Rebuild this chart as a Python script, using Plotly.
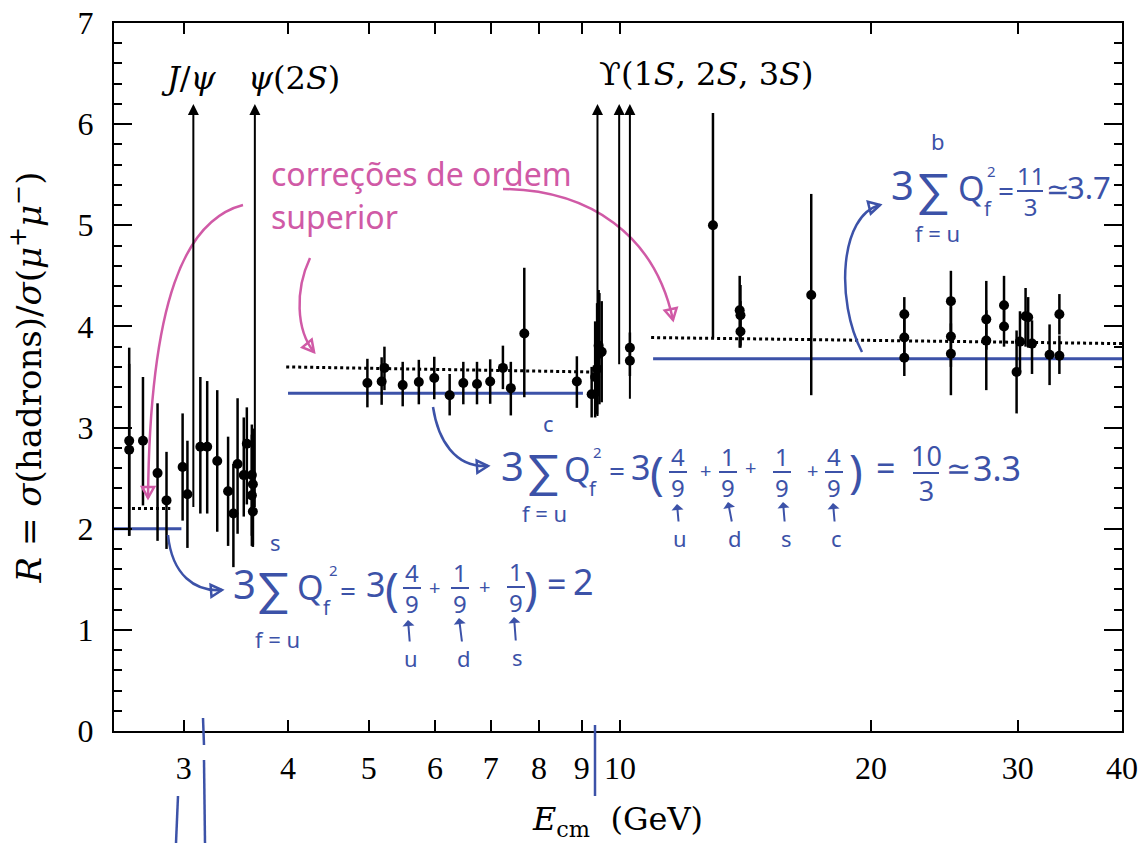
import math
import plotly.graph_objects as go

# ---------------- data ----------------
E = [2.58, 2.58, 2.68, 2.79, 2.86, 2.99, 3.03, 3.14, 3.20, 3.29, 3.39, 3.44, 3.48, 3.54, 3.57,
     3.62, 3.63, 3.62, 3.63,
     4.98, 5.18, 5.22, 5.49, 5.74, 5.99, 6.25, 6.49, 6.74, 6.99, 7.24, 7.40, 7.68, 8.88,
     9.25, 9.34, 9.39, 9.45, 9.43, 9.51, 10.28, 10.28,
     12.93, 13.92, 13.95, 13.95, 16.96, 21.93, 21.93, 21.93, 24.94, 24.94, 24.94,
     27.5, 27.5, 28.88, 28.88, 29.9, 30.18, 30.65, 30.87, 31.2, 32.75, 33.65, 33.65]
R = [2.87, 2.78, 2.87, 2.55, 2.28, 2.61, 2.34, 2.81, 2.81, 2.67, 2.37, 2.15, 2.64, 2.53, 2.84,
     2.53, 2.44, 2.33, 2.17,
     3.44, 3.455, 3.59, 3.42, 3.45, 3.49, 3.32, 3.44, 3.43, 3.455, 3.59, 3.39, 3.93, 3.455,
     3.33, 3.50, 3.58, 3.73, 3.81, 3.75, 3.79, 3.66,
     5.00, 4.16, 4.11, 3.95, 4.31, 4.12, 3.89, 3.69, 4.25, 3.90, 3.73,
     4.07, 3.86, 4.21, 4.00, 3.55, 3.85, 4.10, 4.09, 3.83, 3.72, 4.12, 3.71]
ERR_UP = [0.92, 0.85, 0.63, 0.69, 0.48, 0.53, 0.53, 0.69, 0.65, 0.70, 0.54, 0.49, 0.65, 0.57, 0.36,
          0.50, 0.55, 0.60, 0.55,
          0.24, 0.24, 0.21, 0.23, 0.22, 0.21, 0.21, 0.21, 0.22, 0.22, 0.22, 0.26, 0.65, 0.25,
          0.27, 0.55, 0.65, 0.60, 0.55, 0.50, 0.15, 0.15,
          1.11, 0.34, 0.30, 0.30, 1.00, 0.17, 0.20, 0.20, 0.30, 0.30, 0.30,
          0.38, 0.30, 0.29, 0.20, 0.41, 0.30, 0.28, 0.20, 0.23, 0.30, 0.20, 0.20]
ERR_DN = [0.94, 0.85, 0.64, 0.67, 0.48, 0.53, 0.53, 0.66, 0.66, 0.70, 0.54, 0.53, 0.69, 0.41, 0.60,
          0.60, 0.60, 0.50, 0.35,
          0.24, 0.23, 0.22, 0.21, 0.22, 0.21, 0.20, 0.21, 0.20, 0.22, 0.21, 0.27, 0.63, 0.26,
          0.23, 0.40, 0.45, 0.50, 0.50, 0.50, 0.15, 0.15,
          1.11, 0.37, 0.30, 0.16, 0.99, 0.25, 0.20, 0.18, 0.30, 0.30, 0.41,
          0.30, 0.49, 0.20, 0.20, 0.41, 0.30, 0.30, 0.30, 0.30, 0.30, 0.20, 0.18]

# higher-order (QCD) prediction, dotted
QCD_E = [[2.60, 2.89], [3.98, 9.2], [10.9, 40.0]]
QCD_R = [[2.20, 2.20], [3.60, 3.55], [3.89, 3.83]]
# naive parton-model levels (hand-drawn blue)
PARTON_E = [[2.474, 2.98], [4.0, 9.03], [10.96, 40.0]]
PARTON_R = [2.0, 3.34, 3.68]

# resonances drawn as arrows off scale
RES_E = [3.08, 3.65, 9.40, 9.98, 10.28]
RES_R0 = [2.20, 2.20, 3.10, 3.61, 3.27]
RES_TOP = 6.2

X_TICKS = [3, 4, 5, 6, 7, 8, 9, 10, 20, 30, 40]
X_RANGE = [2.474, 40.0]
Y_RANGE = [0, 7]

BLUE = "#3c52a8"
PINK = "#d05aa6"
SERIF = "Liberation Serif, DejaVu Serif, serif"
WIDE_SERIF = "DejaVu Serif, Liberation Serif, serif"
HAND = "Noto Sans, Lato, sans-serif"

# plot-area geometry (pixels) used to place the hand-written overlay
L, T, W, H = 114, 23, 1008, 708


def px(x):
    return (x - L) / W


def py(y):
    return (T + H - y) / H


fig = go.Figure()

for xs, ys in zip(QCD_E, QCD_R):
    fig.add_trace(go.Scatter(x=xs, y=ys, mode="lines",
                             line=dict(color="black", width=3, dash="dot"),
                             hoverinfo="skip", showlegend=False))
for xs, r in zip(PARTON_E, PARTON_R):
    fig.add_trace(go.Scatter(x=xs, y=[r, r], mode="lines",
                             line=dict(color=BLUE, width=3),
                             hoverinfo="skip", showlegend=False))

fig.add_trace(go.Scatter(
    x=E, y=R, mode="markers",
    marker=dict(color="black", size=10),
    error_y=dict(type="data", symmetric=False, array=ERR_UP, arrayminus=ERR_DN,
                 color="black", thickness=2.5, width=0),
    showlegend=False))

annotations = []
shapes = []

# resonance arrows
for e, r0 in zip(RES_E, RES_R0):
    annotations.append(dict(x=math.log10(e), y=RES_TOP, ax=math.log10(e), ay=r0,
                            xref="x", yref="y", axref="x", ayref="y",
                            showarrow=True, arrowhead=2, arrowsize=1.1, arrowwidth=2,
                            arrowcolor="black", text=""))


def T_(x, y, text, size, color="black", font=SERIF, anchor="center"):
    annotations.append(dict(x=px(x), y=py(y), xref="paper", yref="paper", text=text,
                            showarrow=False, xanchor=anchor, yanchor="middle",
                            font=dict(size=size, color=color, family=font)))


# resonance labels
T_(189, 78, "<i>J</i>/<i>ψ</i>", 32, font=WIDE_SERIF)
T_(294, 78, "<i>ψ</i>(2<i>S</i>)", 32, font=WIDE_SERIF)
T_(597, 74, "ϒ(1<i>S</i>, 2<i>S</i>, 3<i>S</i>)", 32, font=WIDE_SERIF, anchor="left")

# pink annotation
T_(269, 173, "correções de ordem", 32, PINK, HAND, anchor="left")
T_(269, 217, "superior", 32, PINK, HAND, anchor="left")


def curve(pts, color, width=2.5):
    (x0, y0), (x1, y1), (x2, y2), (x3, y3) = pts
    path = (f"M {px(x0)},{py(y0)} C {px(x1)},{py(y1)} {px(x2)},{py(y2)} {px(x3)},{py(y3)}")
    shapes.append(dict(type="path", path=path, xref="paper", yref="paper",
                       line=dict(color=color, width=width)))
    # open arrow head at the end, pointing along the last tangent
    dx, dy = x3 - x2, y3 - y2
    n = math.hypot(dx, dy)
    dx, dy = dx / n, dy / n
    s = 11
    bx, by = x3 - dx * s, y3 - dy * s
    ox, oy = -dy * s * 0.55, dx * s * 0.55
    p1 = (bx + ox, by + oy)
    p2 = (bx - ox, by - oy)
    head = (f"M {px(x3)},{py(y3)} L {px(p1[0])},{py(p1[1])} L {px(p2[0])},{py(p2[1])} Z")
    shapes.append(dict(type="path", path=head, xref="paper", yref="paper",
                       line=dict(color=color, width=width)))


def seg(x0, y0, x1, y1, color, width=2.5):
    shapes.append(dict(type="line", x0=px(x0), y0=py(y0), x1=px(x1), y1=py(y1),
                       xref="paper", yref="paper", line=dict(color=color, width=width)))


# pink arrows
curve([(243, 205), (185, 220), (150, 300), (148, 498)], PINK)
curve([(310, 258), (295, 290), (296, 330), (314, 352)], PINK)
curve([(503, 189), (590, 190), (655, 235), (673, 320)], PINK)

# blue arrows
curve([(168, 535), (172, 575), (195, 592), (222, 590)], BLUE)
curve([(433, 407), (438, 440), (455, 468), (488, 466)], BLUE)
curve([(862, 352), (835, 300), (840, 215), (880, 205)], BLUE)

# blue hand-made marks below the axis
seg(203, 718, 204, 745, BLUE)
seg(204, 760, 205, 843, BLUE)
seg(178, 796, 176, 843, BLUE)
seg(595, 725, 595, 796, BLUE)


def frac(x, yc, num, den, size=24):
    T_(x, yc, f"{num}<br>{den}", size, BLUE, HAND)
    half = 5 + 4 * len(num)
    seg(x - half, yc, x + half, yc, BLUE, 2)


def label(x, y, tipx, tipy, text):
    annotations.append(dict(x=px(tipx), y=py(tipy), xref="paper", yref="paper",
                            ax=x - tipx, ay=y - tipy, text=text, showarrow=True,
                            arrowhead=1, arrowsize=1, arrowwidth=2, arrowcolor=BLUE,
                            font=dict(size=22, color=BLUE, family=HAND)))


# formula 1 : u, d, s
T_(244, 583, "3", 40, BLUE, HAND)
T_(273, 588, "∑", 46, BLUE, HAND)
T_(275, 542, "s", 22, BLUE, HAND)
T_(277, 639, "f = u", 22, BLUE, HAND)
T_(310, 587, "Q", 34, BLUE, HAND)
T_(333, 570, "2", 15, BLUE, HAND)
T_(327, 607, "f", 20, BLUE, HAND)
T_(348, 590, "=", 28, BLUE, HAND)
T_(375, 584, "3", 34, BLUE, HAND)
T_(392, 588, "(", 46, BLUE, HAND)
frac(412, 588, "4", "9")
T_(434, 587, "+", 20, BLUE, HAND)
frac(460, 588, "1", "9")
T_(484, 586, "+", 20, BLUE, HAND)
frac(516, 587, "1", "9")
T_(531, 587, ")", 46, BLUE, HAND)
T_(556, 584, "=", 34, BLUE, HAND)
T_(583, 581, "2", 36, BLUE, HAND)
label(411, 658, 408, 620, "u")
label(464, 658, 459, 618, "d")
label(517, 657, 514, 617, "s")

# formula 2 : u, d, s, c
T_(512, 465, "3", 40, BLUE, HAND)
T_(543, 470, "∑", 46, BLUE, HAND)
T_(548, 423, "c", 22, BLUE, HAND)
T_(544, 513, "f = u", 22, BLUE, HAND)
T_(577, 469, "Q", 34, BLUE, HAND)
T_(597, 452, "2", 15, BLUE, HAND)
T_(593, 488, "f", 20, BLUE, HAND)
T_(617, 470, "=", 28, BLUE, HAND)
T_(640, 467, "3", 34, BLUE, HAND)
T_(657, 472, "(", 46, BLUE, HAND)
frac(678, 472, "4", "9")
T_(705, 470, "+", 20, BLUE, HAND)
frac(728, 472, "1", "9")
T_(750, 468, "+", 20, BLUE, HAND)
frac(782, 472, "1", "9")
T_(812, 470, "+", 20, BLUE, HAND)
frac(834, 472, "4", "9")
T_(856, 470, ")", 46, BLUE, HAND)
T_(885, 468, "=", 34, BLUE, HAND)
frac(926, 473, "10", "3", 27)
T_(958, 468, "≃", 30, BLUE, HAND)
T_(997, 468, "3.3", 34, BLUE, HAND)
label(680, 538, 677, 504, "u")
label(735, 538, 728, 502, "d")
label(786, 538, 783, 502, "s")
label(836, 538, 833, 503, "c")

# formula 3 : up to b
T_(902, 185, "3", 40, BLUE, HAND)
T_(933, 189, "∑", 46, BLUE, HAND)
T_(938, 141, "b", 22, BLUE, HAND)
T_(937, 233, "f = u", 22, BLUE, HAND)
T_(971, 188, "Q", 34, BLUE, HAND)
T_(991, 171, "2", 15, BLUE, HAND)
T_(988, 208, "f", 20, BLUE, HAND)
T_(1006, 190, "=", 28, BLUE, HAND)
frac(1030, 191, "11", "3", 24)
T_(1057, 188, "≃", 28, BLUE, HAND)
T_(1089, 187, "3.7", 31, BLUE, HAND)

fig.update_layout(
    width=1144, height=843,
    margin=dict(l=L, r=1144 - L - W, t=T, b=843 - T - H),
    paper_bgcolor="white", plot_bgcolor="white",
    showlegend=False,
    annotations=annotations, shapes=shapes,
    font=dict(family=SERIF, color="black"),
)
fig.update_xaxes(
    type="log", range=[math.log10(X_RANGE[0]), math.log10(X_RANGE[1])],
    tickmode="array", tickvals=X_TICKS, ticktext=[str(v) for v in X_TICKS],
    ticks="inside", ticklen=11, tickwidth=2, tickcolor="black",
    showline=True, linecolor="black", linewidth=2, mirror="ticks",
    showgrid=False, zeroline=False, automargin=False,
    tickfont=dict(size=32, family=SERIF, color="black"),
    ticklabelstandoff=8,
    title=dict(text="<i>E</i><sub>cm</sub>  (GeV)", font=dict(size=32, family=WIDE_SERIF),
               standoff=22),
)
fig.update_yaxes(
    range=Y_RANGE, dtick=1, tick0=0,
    ticks="inside", ticklen=18, tickwidth=2, tickcolor="black",
    minor=dict(dtick=0.2, ticks="inside", ticklen=8, tickwidth=2, tickcolor="black",
               showgrid=False),
    showline=True, linecolor="black", linewidth=2, mirror="ticks",
    showgrid=False, zeroline=False, automargin=False,
    tickfont=dict(size=32, family=SERIF, color="black"),
    ticklabelstandoff=12,
    title=dict(text="<i>R</i> = <i>σ</i>(hadrons)/<i>σ</i>(<i>μ</i><sup>+</sup><i>μ</i><sup>−</sup>)",
               font=dict(size=34, family=WIDE_SERIF), standoff=26),
)

fig.write_html("out.html", config={"displayModeBar": False},
               post_script="document.body.style.margin='0px';")
